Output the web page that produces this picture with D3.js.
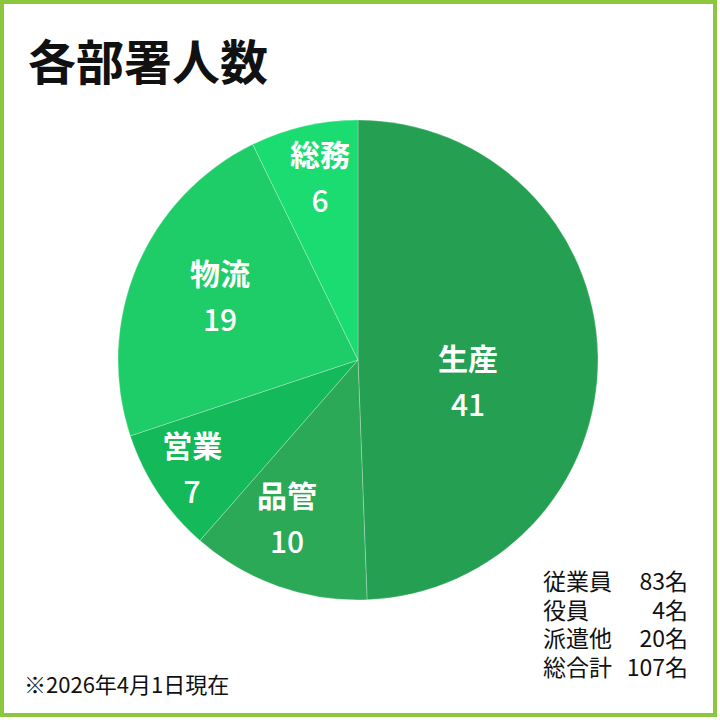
<!DOCTYPE html>
<html>
<head>
<meta charset="utf-8">
<script src="https://cdn.jsdelivr.net/npm/d3@7"></script>
<style>
    html, body { margin: 0; padding: 0; background: #fff; }
    svg { display: block; font-family: "Noto Sans CJK JP", "Noto Sans", sans-serif; }
</style>
</head>
<body>
<div id="chart"></div>
<script>
// Department headcount (as of 2026-04-01)
const departments = ['生産', '品管', '営業', '物流', '総務'];
const headcounts = [41, 10, 7, 19, 6];

// Summary table in the lower right
const summaryLabels = ['従業員', '役員', '派遣他', '総合計'];
const summaryValues = [83, 4, 20, 107];

const title = '各部署人数';
const footnote = '※2026年4月1日現在';

// Slice colours, clockwise from 12 o'clock
const COLORS = {
    '生産': '#25a052',
    '品管': '#2ba957',
    '営業': '#14ba5a',
    '物流': '#1fcd68',
    '総務': '#1adc70'
};

// Where each label block sits: distance from the centre and angle nudge (deg)
const LABEL_PLACE = {
    '生産': { r: 112, shift: 11.9 },
    '品管': { r: 173, shift: 4.7 },
    '営業': { r: 198, shift: 0.5 },
    '物流': { r: 152, shift: 2.1 },
    '総務': { r: 187, shift: 1.3 }
};

const width = 720, height = 720;
const cx = 358, cy = 360, radius = 240;

const svg = d3.select('#chart')
    .append('svg')
    .attr('width', width)
    .attr('height', height);

// Frame
svg.append('rect')
    .attr('x', 2).attr('y', 2)
    .attr('width', 713).attr('height', 713)
    .attr('fill', '#fff')
    .attr('stroke', '#8cc63f')
    .attr('stroke-width', 4);

// Title
svg.append('text')
    .attr('x', 28)
    .attr('y', 80)
    .attr('font-size', 48)
    .attr('font-weight', 700)
    .attr('fill', '#111')
    .text(title);

// Pie
const data = departments.map((name, i) => ({ name, value: headcounts[i] }));

const pie = d3.pie()
    .value(d => d.value)
    .sort(null);

const arc = d3.arc()
    .innerRadius(0)
    .outerRadius(radius);

const arcs = pie(data);

const g = svg.append('g')
    .attr('transform', `translate(${cx},${cy})`);

g.selectAll('path.slice')
    .data(arcs)
    .enter()
    .append('path')
    .attr('class', 'slice')
    .attr('d', arc)
    .attr('fill', d => COLORS[d.data.name])
    .attr('stroke', 'rgba(255,255,255,0.25)')
    .attr('stroke-width', 1);

// Labels: name on the first line, count on the second
const labels = g.selectAll('g.label')
    .data(arcs)
    .enter()
    .append('g')
    .attr('class', 'label')
    .attr('transform', d => {
        const p = LABEL_PLACE[d.data.name];
        const a = (d.startAngle + d.endAngle) / 2 + p.shift * Math.PI / 180;
        const [x, y] = d3.arc().innerRadius(p.r).outerRadius(p.r)
            .centroid({ startAngle: a, endAngle: a });
        return `translate(${x},${y})`;
    });

labels.append('text')
    .attr('text-anchor', 'middle')
    .attr('y', -11)
    .attr('font-size', 30)
    .attr('font-weight', 700)
    .attr('fill', '#fff')
    .text(d => d.data.name);

labels.append('text')
    .attr('text-anchor', 'middle')
    .attr('y', 35)
    .attr('font-size', 30)
    .attr('font-weight', 500)
    .attr('fill', '#fff')
    .text(d => d.data.value);

// Summary table
const rowY = d3.scalePoint()
    .domain(summaryLabels)
    .range([590, 675.5]);

const rows = svg.selectAll('g.summary')
    .data(summaryLabels)
    .enter()
    .append('g')
    .attr('class', 'summary')
    .attr('transform', d => `translate(0,${rowY(d)})`);

rows.append('text')
    .attr('x', 543)
    .attr('font-size', 23)
    .attr('fill', '#111')
    .text(d => d);

rows.append('text')
    .attr('x', 688)
    .attr('text-anchor', 'end')
    .attr('font-size', 23)
    .attr('fill', '#111')
    .text((d, i) => summaryValues[i] + '名');

// Footnote
svg.append('text')
    .attr('x', 24)
    .attr('y', 693)
    .attr('font-size', 22)
    .attr('fill', '#111')
    .text(footnote);
</script>
</body>
</html>
